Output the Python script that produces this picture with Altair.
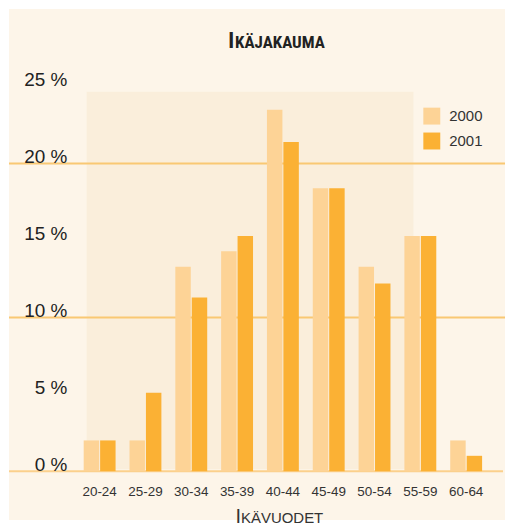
import altair as alt
import pandas as pd

groups = ["20-24", "25-29", "30-34", "35-39", "40-44", "45-49", "50-54", "55-59", "60-64"]
years = ["2000", "2001"]
v2000 = [2.0, 2.0, 13.3, 14.3, 23.5, 18.4, 13.3, 15.3, 2.0]
v2001 = [2.0, 5.1, 11.3, 15.3, 21.4, 18.4, 12.2, 15.3, 1.0]
y_ticks = [0, 5, 10, 15, 20, 25]
grid_values = [10, 20]

rows = []
for g, a, b in zip(groups, v2000, v2001):
    rows.append({"group": g, "year": "2000", "value": a})
    rows.append({"group": g, "year": "2001", "value": b})
df = pd.DataFrame(rows)

W, H = 414, 386
one = pd.DataFrame({"k": [0]})
yscale = alt.Scale(domain=[0, 25], nice=False, zero=True)
yaxis = alt.Axis(values=y_ticks, labelExpr="datum.value + ' %'", grid=False,
                 domain=False, ticks=False, labelFontSize=19, labelPadding=10,
                 labelColor="#222222", labelFont="Liberation Sans",
                 labelBaseline="alphabetic", labelOffset=-1, title=None, zindex=2)

bg = alt.Chart(one).mark_rect(color="#FDF5E9").encode(
    x=alt.value(-68), x2=alt.value(430), y=alt.value(-78), y2=alt.value(435)
)
photo = alt.Chart(one).mark_rect(color="#F6E4C6", opacity=0.4).encode(
    x=alt.value(10), x2=alt.value(338), y=alt.value(5), y2=alt.value(384)
)

grid = alt.Chart(pd.DataFrame({"value": grid_values})).mark_rule(
    color="#F9C873", strokeWidth=2
).encode(
    y=alt.Y("value:Q", scale=yscale, axis=yaxis),
    x=alt.value(-68), x2=alt.value(430),
)
base = alt.Chart(pd.DataFrame({"value": [0]})).mark_rule(
    color="#FBD08C", strokeWidth=2
).encode(
    y=alt.Y("value:Q", scale=yscale, axis=yaxis),
    x=alt.value(-68), x2=alt.value(428),
)

bars = alt.Chart(df).mark_bar().encode(
    x=alt.X("group:N", sort=groups,
            scale=alt.Scale(paddingInner=0.304, paddingOuter=0.152),
            axis=alt.Axis(labelAngle=0, title=None, domain=False, ticks=False,
                          labelPadding=13, labelFontSize=13.5, labelColor="#333333",
                          labelFont="Liberation Sans", zindex=2)),
    xOffset=alt.XOffset("year:N", sort=years, scale=alt.Scale(paddingInner=0.06)),
    y=alt.Y("value:Q", scale=yscale, axis=yaxis),
    color=alt.Color("year:N", sort=years,
                    scale=alt.Scale(domain=years, range=["#FDD396", "#FBB134"]),
                    legend=alt.Legend(title=None, orient="none", legendX=348, legendY=21,
                                      symbolType="square", symbolSize=289,
                                      symbolStrokeWidth=0, symbolOpacity=1,
                                      labelFontSize=15, labelColor="#333333",
                                      labelFont="Liberation Sans", labelOffset=9,
                                      rowPadding=8, padding=0, zindex=2)),
)

tfont = "Liberation Sans Narrow, Roboto Condensed, DejaVu Sans Condensed, Liberation Sans"
title_big = alt.Chart(one).mark_text(
    text="I", font=tfont, fontWeight="bold", fontSize=22, align="right",
    baseline="alphabetic", color="#222222"
).encode(x=alt.value(158), y=alt.value(-39))
title_small = alt.Chart(one).mark_text(
    text="KÄJAKAUMA", font=tfont, fontWeight="bold", fontSize=17, align="left",
    baseline="alphabetic", color="#222222"
).encode(x=alt.value(159), y=alt.value(-39))

xt_big = alt.Chart(one).mark_text(
    text="I", font="Liberation Sans", fontSize=20, align="right",
    baseline="alphabetic", color="#333333"
).encode(x=alt.value(165), y=alt.value(438))
xt_small = alt.Chart(one).mark_text(
    text="KÄVUODET", font="Liberation Sans", fontSize=15, align="left",
    baseline="alphabetic", color="#333333"
).encode(x=alt.value(165), y=alt.value(438))

chart = alt.layer(
    bg, photo, grid, base, bars, title_big, title_small, xt_big, xt_small
).properties(
    width=W, height=H, padding=0, background="white"
).configure_view(stroke=None)

chart.save("out.html", embed_options={"renderer": "svg", "actions": False})
